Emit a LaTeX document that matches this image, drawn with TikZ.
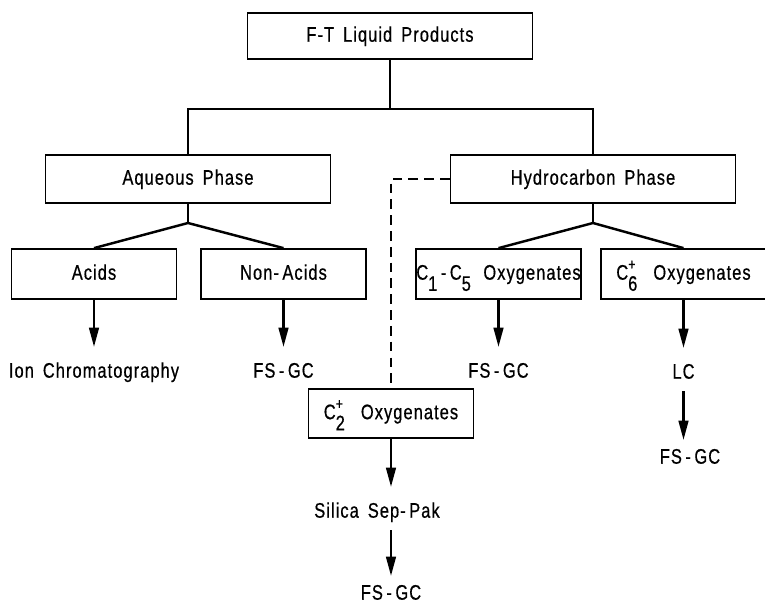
\documentclass[tikz,border=0pt]{standalone}
\usepackage{fontspec}
\setmainfont{Liberation Sans}[FakeStretch=0.78, FakeBold=0.6, LetterSpace=5, WordSpace=1.6]
\usepackage{tikz}
\usetikzlibrary{arrows.meta}

\newcommand{\csub}[1]{\raisebox{-1ex}[0pt][0pt]{#1}}
\newcommand{\csup}[1]{\raisebox{0.9ex}[0pt][0pt]{\small #1}}

\begin{document}
\begin{tikzpicture}[x=0.02cm, y=-0.02cm, font=\fontsize{12}{14}\selectfont,
		box/.style={draw, line width=1pt, inner sep=0pt, text height=8.5pt, text depth=2pt},
		bigbox/.style={box, minimum width=5.7cm, minimum height=0.96cm},
		smallbox/.style={box, minimum width=3.3cm, minimum height=1cm},
		result/.style={inner sep=2pt, outer sep=3pt, text height=8.5pt, text depth=2pt},
		link/.style={line width=1.4pt},
		flow/.style={link, -{Triangle[length=11pt, width=5.5pt]}}]
		\useasboundingbox (0, 0) rectangle (765, 604);

		\node[bigbox, minimum height=0.92cm] at (390, 36) (ft) {F-T Liquid Products};
		\node[bigbox] at (188, 179) (aq) {Aqueous Phase};
		\node[bigbox] at (593, 179) (hc) {Hydrocarbon Phase};

		\node[smallbox] at (94, 274) (acid) {Acids};
		\node[smallbox] at (283.5, 274) (nacid) {Non-\,Acids};
		\node[smallbox] at (498.5, 274) (lowox) {C\csub{1}\,-\,C\csub{5}\, Oxygenates};
		\node[smallbox] at (683.5, 274) (highox) {C\rlap{\csub{6}}\csup{+} \ Oxygenates};
		\node[smallbox, minimum height=0.98cm] at (391, 413.5) (ctwo) {C\rlap{\csub{2}}\csup{+} \ Oxygenates};

		\node[result] at (94, 372) (ion) {Ion Chromatography};
		\node[result] at (283.5, 372) (gca) {FS\,-\,GC};
		\node[result] at (498.5, 372) (gcb) {FS\,-\,GC};
		\node[result] at (683.5, 373) (lc) {LC};
		\node[result] at (690, 458) (gcc) {FS\,-\,GC};
		\node[result] at (377, 512) (silica) {Silica Sep-\,Pak};
		\node[result] at (391, 594) (gcd) {FS\,-\,GC};

		\coordinate (split) at (390, 109);
		\coordinate (aqfork) at (188, 223);
		\coordinate (hcfork) at (593, 223);

		\draw[link] (ft) -- (split);
		\draw[link] (aq.north) |- (split) -| (hc.north);
		\draw[link] (aq) -- (aqfork);
		\draw[link] (acid.north) -- (aqfork) -- (nacid.north);
		\draw[link] (hc) -- (hcfork);
		\draw[link] (lowox.north) -- (hcfork) -- (highox.north);
		\draw[link, dash pattern=on 5.5pt off 3.5pt] (hc.west) -| (ctwo.north);

		\draw[flow, shorten >=4pt] (acid) -- (ion);
		\draw[flow, shorten >=4pt] (nacid) -- (gca);
		\draw[flow, shorten >=4pt] (lowox) -- (gcb);
		\draw[flow, shorten >=4pt] (highox) -- (lc);
		\draw[flow] (lc.south) -- (lc.south |- gcc.north);
		\draw[flow, shorten >=4pt] (ctwo.south) -- (ctwo.south |- silica.north);
		\draw[flow] (silica.south -| ctwo.south) -- (gcd);
	\end{tikzpicture}
\end{document}
